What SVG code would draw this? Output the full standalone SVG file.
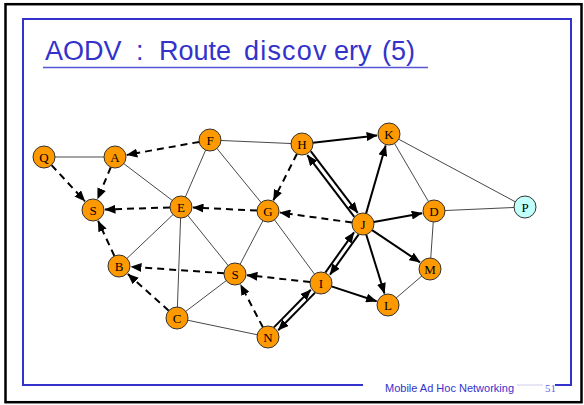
<svg xmlns="http://www.w3.org/2000/svg" width="584" height="405" viewBox="0 0 584 405">
<style>
.frame{fill:none;stroke:#3333CC;stroke-width:2}
.thin{stroke:#333;stroke-width:0.9;fill:none}
.dash{stroke:#000;stroke-width:2;stroke-dasharray:7 5;fill:none;marker-end:url(#ah)}
.solid{stroke:#000;stroke-width:2;fill:none;marker-end:url(#ah)}
.node circle{fill:#FF9900;stroke:#333;stroke-width:1}
.node text{font-family:"Liberation Serif","Times New Roman",serif;font-size:13px;text-anchor:middle;fill:#000}
.title{font-family:"Liberation Sans",Arial,sans-serif;font-size:27px;fill:#3333CC}
.foot{font-family:"Liberation Sans",Arial,sans-serif;font-size:11px;fill:#3333CC}
</style>
<defs>
<marker id="ah" markerUnits="userSpaceOnUse" markerWidth="11" markerHeight="9" refX="10.5" refY="4.5" orient="auto">
<path d="M0,0 L11,4.5 L0,9 z" fill="#000"/>
</marker>
</defs>
<rect x="0" y="0" width="584" height="405" fill="#fff"/>
<rect x="5.5" y="4.2" width="576" height="398" fill="none" stroke="#000" stroke-width="2.5"/>
<path class="frame" d="M363,385 L23,385 L23,19 L571,19 L571,385 L555,385"/>
<line x1="517" y1="385" x2="543" y2="385" stroke="#ccccee" stroke-width="1"/>
<text class="title" y="60"><tspan x="45">AODV</tspan><tspan x="136">:</tspan><tspan x="159">Route</tspan><tspan x="244" letter-spacing="1.2">discov</tspan><tspan x="334">ery</tspan><tspan x="382">(5)</tspan></text>
<line x1="43" y1="67.5" x2="428" y2="67.5" stroke="#5555D5" stroke-width="1.5"/>
<text class="foot" x="385" y="391.5">Mobile Ad Hoc Networking</text>
<text x="545" y="391.5" font-family="'Liberation Serif','Times New Roman',serif" font-size="11" fill="#6666DD">51</text>
<g id="connectors">
<line class="thin" x1="44" y1="157" x2="115" y2="157"/>
<line class="thin" x1="115" y1="157" x2="181" y2="207"/>
<line class="thin" x1="210" y1="140" x2="181" y2="207"/>
<line class="thin" x1="210" y1="140" x2="268" y2="211"/>
<line class="thin" x1="210" y1="140" x2="302" y2="144"/>
<line class="thin" x1="181" y1="207" x2="119" y2="266"/>
<line class="thin" x1="181" y1="207" x2="177" y2="318"/>
<line class="thin" x1="181" y1="207" x2="235" y2="274"/>
<line class="thin" x1="268" y1="211" x2="235" y2="274"/>
<line class="thin" x1="268" y1="211" x2="321" y2="283"/>
<line class="thin" x1="389" y1="134" x2="434" y2="211"/>
<line class="thin" x1="389" y1="134" x2="525" y2="207"/>
<line class="thin" x1="434" y1="211" x2="525" y2="207"/>
<line class="thin" x1="434" y1="211" x2="430" y2="269"/>
<line class="thin" x1="430" y1="269" x2="388" y2="305"/>
<line class="thin" x1="177" y1="318" x2="235" y2="274"/>
<line class="thin" x1="177" y1="318" x2="268" y2="337"/>
<line class="dash" x1="199.2" y1="141.9" x2="126.8" y2="154.9"/>
<line class="dash" x1="110.8" y1="167.2" x2="97.6" y2="198.9"/>
<line class="dash" x1="51.5" y1="165.1" x2="84.9" y2="201.2"/>
<line class="dash" x1="170" y1="207.4" x2="105" y2="209.6"/>
<line class="dash" x1="257" y1="210.5" x2="193" y2="207.6"/>
<line class="dash" x1="297" y1="153.8" x2="273.4" y2="200.3"/>
<line class="dash" x1="352.1" y1="222.5" x2="279.9" y2="212.6"/>
<line class="dash" x1="114.4" y1="256" x2="98.1" y2="220.9"/>
<line class="dash" x1="168.8" y1="310.7" x2="127.9" y2="274"/>
<line class="dash" x1="224" y1="273.2" x2="131" y2="266.8"/>
<line class="dash" x1="310.1" y1="281.9" x2="246.9" y2="275.2"/>
<line class="dash" x1="262.9" y1="327.3" x2="240.6" y2="284.6"/>
<line class="solid" x1="312.9" y1="142.7" x2="377.1" y2="135.4"/>
<line class="solid" x1="366.1" y1="213.4" x2="385.7" y2="145.5"/>
<line class="solid" x1="373.8" y1="222" x2="422.2" y2="213.2"/>
<line class="solid" x1="372.1" y1="230.1" x2="420" y2="262.3"/>
<line class="solid" x1="366.2" y1="234.5" x2="384.5" y2="293.5"/>
<line class="solid" x1="331.5" y1="286.4" x2="376.6" y2="301.3"/>
<line class="solid" x1="310.7" y1="151.2" x2="357.7" y2="212.9"/>
<line class="solid" x1="354.3" y1="216.8" x2="307.3" y2="155.1"/>
<line class="solid" x1="325.3" y1="272.6" x2="354" y2="232.3"/>
<line class="solid" x1="358.7" y1="234.4" x2="330" y2="274.7"/>
<line class="solid" x1="273.9" y1="327.4" x2="310.8" y2="289.8"/>
<line class="solid" x1="315.1" y1="292.6" x2="278.2" y2="330.2"/>
</g>
<g id="node-Q" class="node"><circle cx="44" cy="157" r="11"/><text x="44" y="161.5">Q</text></g>
<g id="node-A" class="node"><circle cx="115" cy="157" r="11"/><text x="115" y="161.5">A</text></g>
<g id="node-F" class="node"><circle cx="210" cy="140" r="11"/><text x="210" y="144.5">F</text></g>
<g id="node-H" class="node"><circle cx="302" cy="144" r="11"/><text x="302" y="148.5">H</text></g>
<g id="node-K" class="node"><circle cx="389" cy="134" r="11"/><text x="389" y="138.5">K</text></g>
<g id="node-S1" class="node"><circle cx="93" cy="210" r="11"/><text x="93" y="214.5">S</text></g>
<g id="node-E" class="node"><circle cx="181" cy="207" r="11"/><text x="181" y="211.5">E</text></g>
<g id="node-G" class="node"><circle cx="268" cy="211" r="11"/><text x="268" y="215.5">G</text></g>
<g id="node-J" class="node"><circle cx="363" cy="224" r="11"/><text x="363" y="228.5">J</text></g>
<g id="node-D" class="node"><circle cx="434" cy="211" r="11"/><text x="434" y="215.5">D</text></g>
<g id="node-P" class="node"><circle cx="525" cy="207" r="11" style="fill:#C0FFFA"/><text x="525" y="211.5">P</text></g>
<g id="node-B" class="node"><circle cx="119" cy="266" r="11"/><text x="119" y="270.5">B</text></g>
<g id="node-S2" class="node"><circle cx="235" cy="274" r="11"/><text x="235" y="278.5">S</text></g>
<g id="node-M" class="node"><circle cx="430" cy="269" r="11"/><text x="430" y="273.5">M</text></g>
<g id="node-I" class="node"><circle cx="321" cy="283" r="11"/><text x="321" y="287.5">I</text></g>
<g id="node-L" class="node"><circle cx="388" cy="305" r="11"/><text x="388" y="309.5">L</text></g>
<g id="node-C" class="node"><circle cx="177" cy="318" r="11"/><text x="177" y="322.5">C</text></g>
<g id="node-N" class="node"><circle cx="268" cy="337" r="11"/><text x="268" y="341.5">N</text></g>
</svg>
